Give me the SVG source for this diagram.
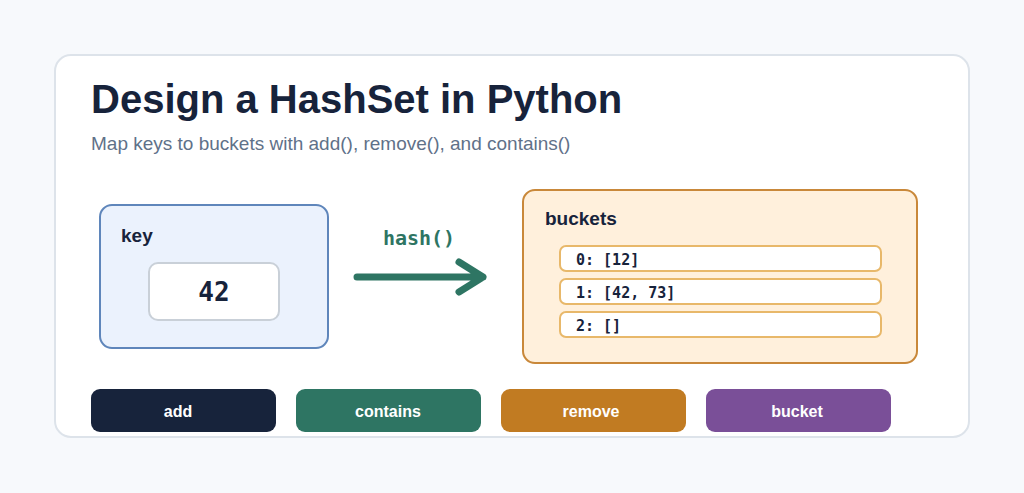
<svg xmlns="http://www.w3.org/2000/svg" width="1024" height="493" viewBox="0 0 1024 493">
<style>
.sans{font-family:"Liberation Sans",Arial,sans-serif}
.mono{font-family:"DejaVu Sans Mono","Liberation Mono",monospace;font-weight:bold}
.row{fill:#fff;stroke:#e8b86a;stroke-width:2}
.btn{font-family:"Liberation Sans",Arial,sans-serif;font-size:16px;font-weight:bold;fill:#fff;text-anchor:middle}
</style>
<rect width="1024" height="493" fill="#f7f9fc"/>
<rect x="55" y="55" width="914" height="382" rx="16" fill="#fff" stroke="#dde3ea" stroke-width="2"/>
<text x="91" y="113" class="sans" font-size="40" font-weight="bold" fill="#17233b">Design a HashSet in Python</text>
<text x="91" y="150" class="sans" font-size="19" fill="#5f7189">Map keys to buckets with add(), remove(), and contains()</text>
<g id="key">
<rect x="100" y="205" width="228" height="143" rx="12" fill="#ebf2fd" stroke="#5f86bb" stroke-width="2"/>
<text x="121" y="242" class="sans" font-size="19" font-weight="bold" fill="#17233b">key</text>
<rect x="149" y="263" width="130" height="57" rx="9" fill="#fff" stroke="#c9d0d8" stroke-width="2"/>
<text x="214" y="301" class="mono" font-size="26" fill="#17233b" text-anchor="middle">42</text>
</g>
<g id="connectors">
<text x="419" y="245" class="mono" font-size="20" fill="#2e7563" text-anchor="middle">hash()</text>
<path d="M357 277H483M459 262L483 277L459 292" fill="none" stroke="#2e7563" stroke-width="7" stroke-linecap="round" stroke-linejoin="round"/>
</g>
<g id="buckets">
<rect x="523" y="190" width="394" height="173" rx="12" fill="#fff0dc" stroke="#c9883a" stroke-width="2"/>
<text x="545" y="225" class="sans" font-size="19" font-weight="bold" fill="#17233b">buckets</text>
<rect class="row" x="560" y="246" width="321" height="25" rx="6"/>
<text x="576" y="265" class="mono" font-size="15" fill="#17233b">0: [12]</text>
<rect class="row" x="560" y="279" width="321" height="25" rx="6"/>
<text x="576" y="298" class="mono" font-size="15" fill="#17233b">1: [42, 73]</text>
<rect class="row" x="560" y="312" width="321" height="25" rx="6"/>
<text x="576" y="331" class="mono" font-size="15" fill="#17233b">2: []</text>
</g>
<g id="add"><rect x="91" y="389" width="185" height="43" rx="9" fill="#17233b"/><text x="178" y="417" class="btn">add</text></g>
<g id="contains"><rect x="296" y="389" width="185" height="43" rx="9" fill="#2e7563"/><text x="388" y="417" class="btn">contains</text></g>
<g id="remove"><rect x="501" y="389" width="185" height="43" rx="9" fill="#c17b22"/><text x="591" y="417" class="btn">remove</text></g>
<g id="bucket"><rect x="706" y="389" width="185" height="43" rx="9" fill="#7a4f98"/><text x="797" y="417" class="btn">bucket</text></g>
</svg>
